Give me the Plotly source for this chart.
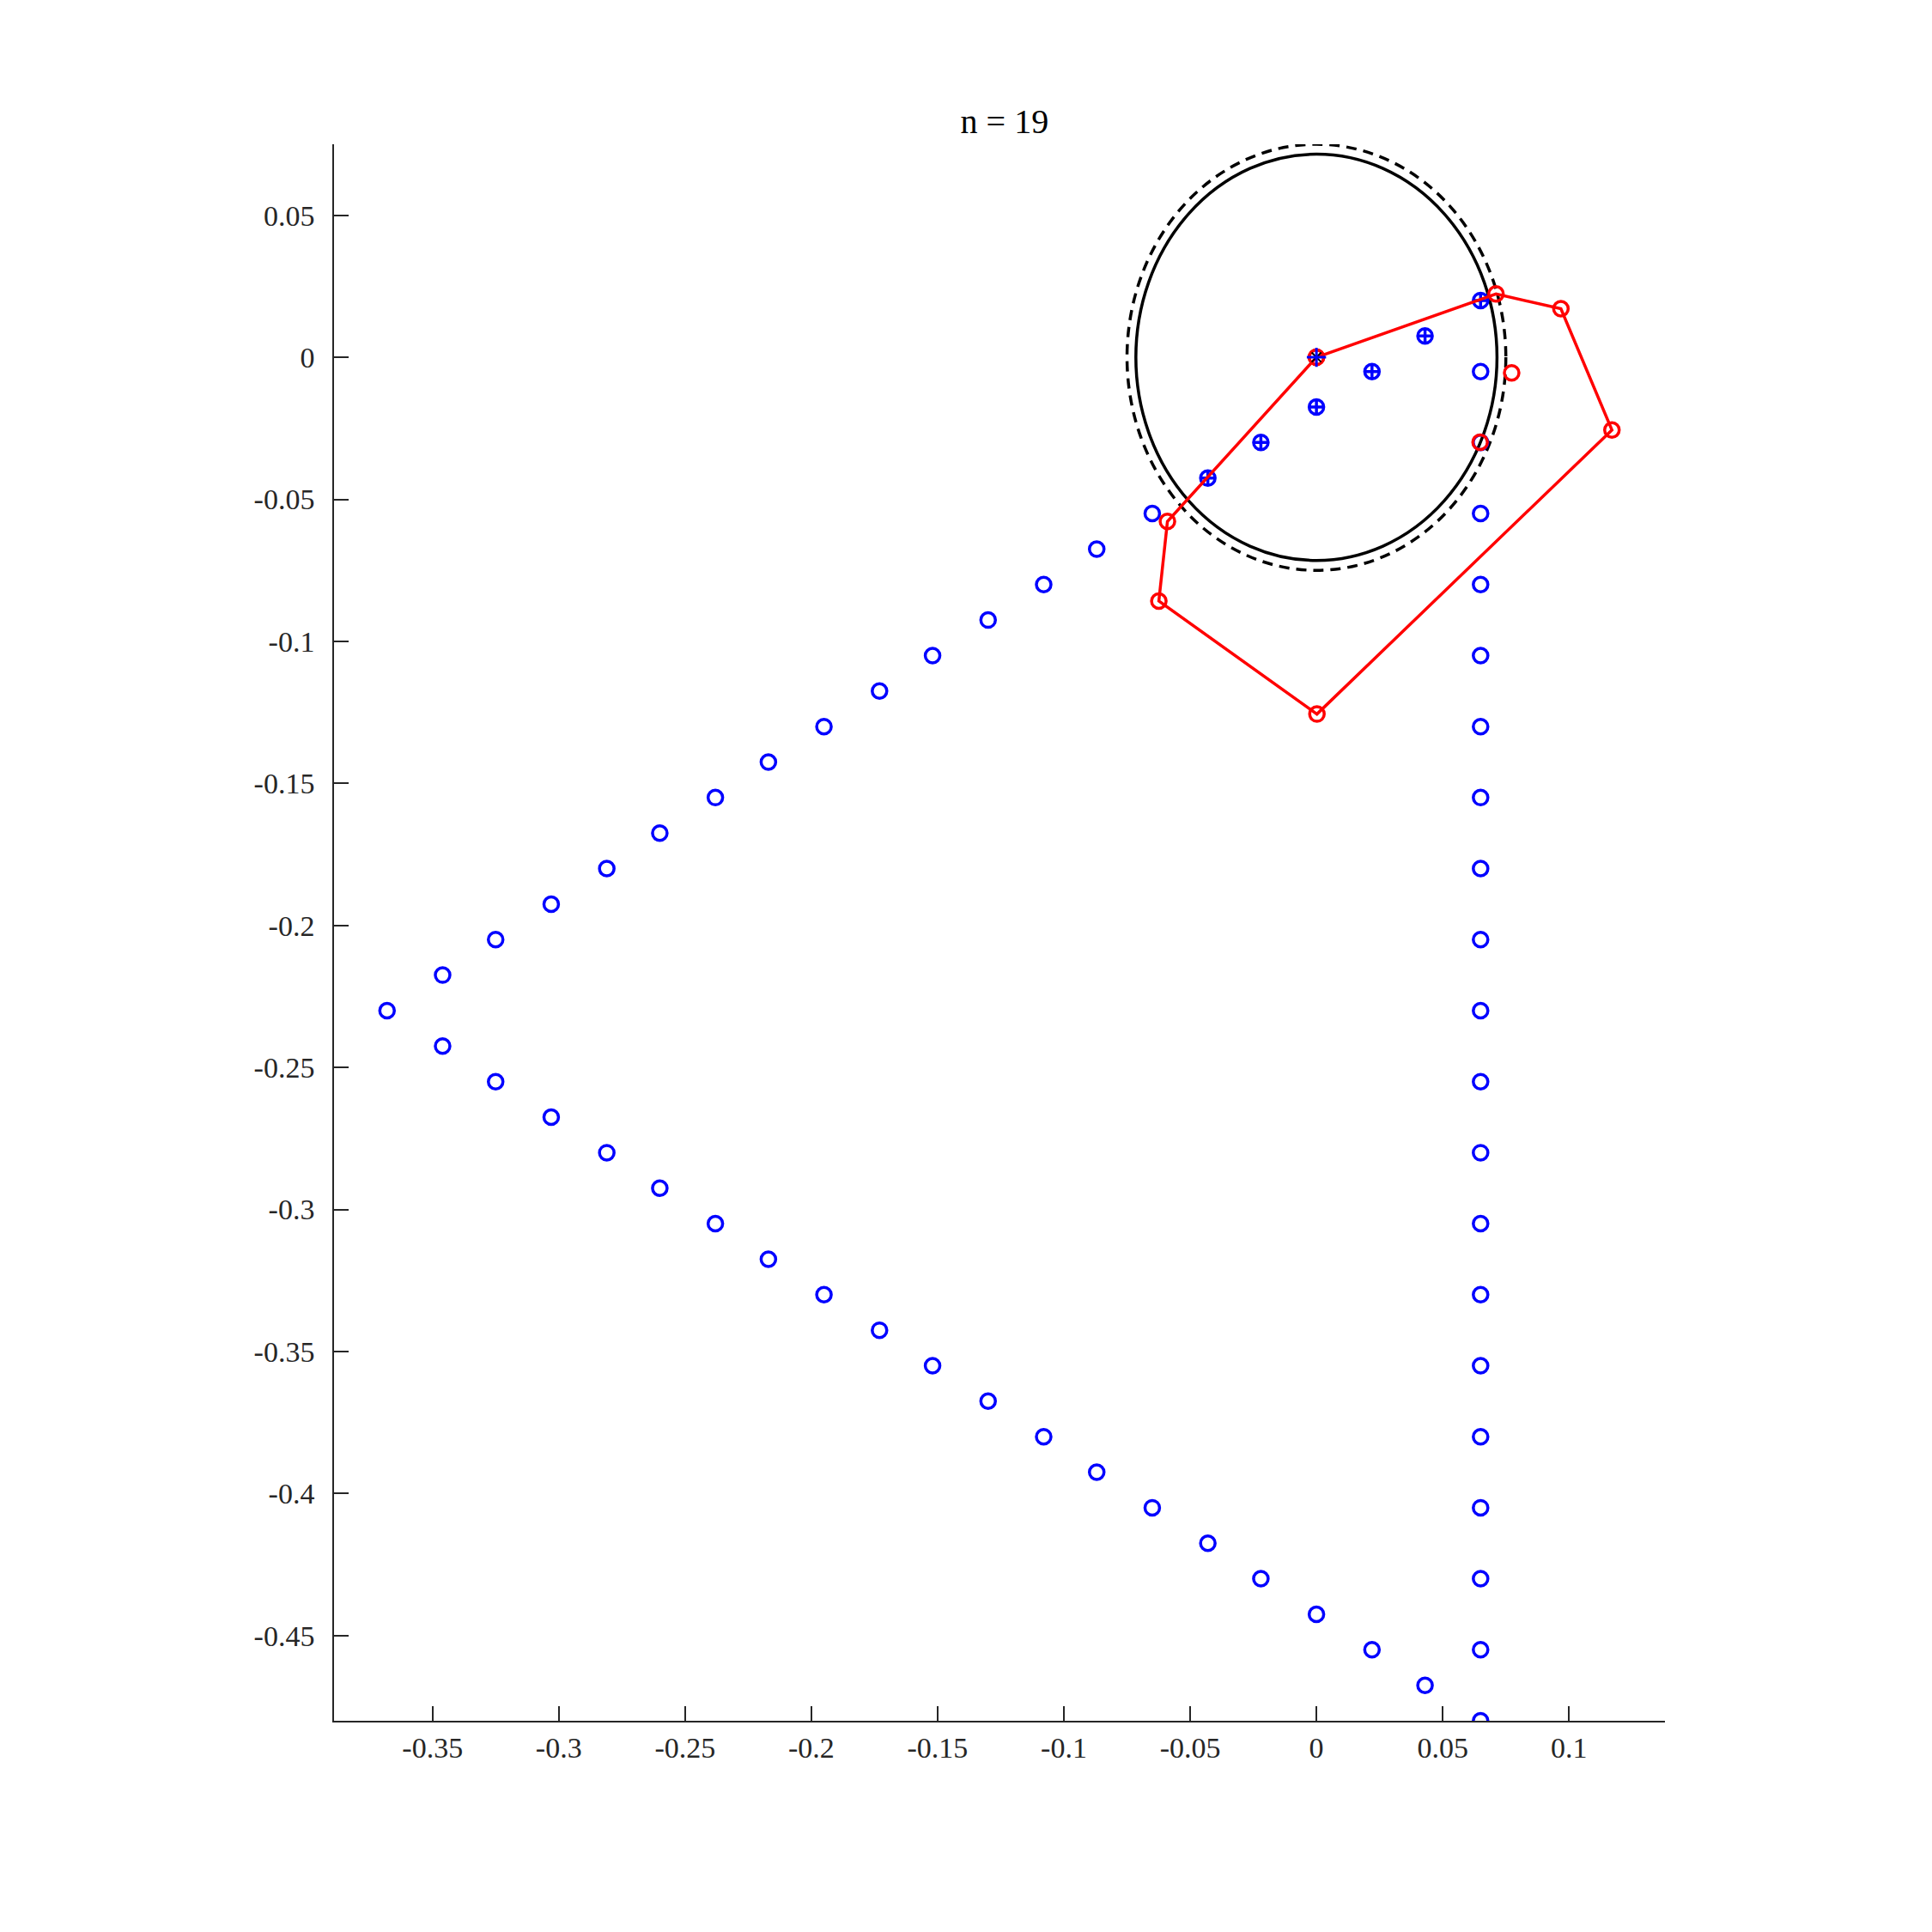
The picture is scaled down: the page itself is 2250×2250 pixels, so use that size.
import plotly.graph_objects as go

# ---- data ----
upper_x = [-0.368, -0.346, -0.325, -0.303, -0.281, -0.260, -0.238, -0.217,
           -0.195, -0.173, -0.152, -0.130, -0.108, -0.087, -0.065]
upper_y = [-0.23, -0.2175, -0.205, -0.1925, -0.18, -0.1675, -0.155, -0.1425,
           -0.13, -0.1175, -0.105, -0.0925, -0.08, -0.0675, -0.055]

plus_x = [-0.043, -0.022, 0.0, 0.022, 0.043, 0.065]
plus_y = [-0.0425, -0.03, -0.0175, -0.005, 0.0075, 0.02]

lower_x = [-0.346, -0.325, -0.303, -0.281, -0.260, -0.238, -0.217, -0.195,
           -0.173, -0.152, -0.130, -0.108, -0.087, -0.065, -0.043, -0.022,
           0.0, 0.022, 0.043]
lower_y = [-0.2425, -0.255, -0.2675, -0.28, -0.2925, -0.305, -0.3175, -0.33,
           -0.3425, -0.355, -0.3675, -0.38, -0.3925, -0.405, -0.4175, -0.43,
           -0.4425, -0.455, -0.4675]

vert_x = [0.065] * 20
vert_y = [-0.005, -0.03, -0.055, -0.08, -0.105, -0.13, -0.155, -0.18, -0.205,
          -0.23, -0.255, -0.28, -0.305, -0.33, -0.355, -0.38, -0.405, -0.43,
          -0.455, -0.48]

poly_x = [0.0, 0.0711, 0.0968, 0.117, 0.0002, -0.0624, -0.059, 0.0]
poly_y = [0.0, 0.0223, 0.0171, -0.0256, -0.1256, -0.0858, -0.0578, 0.0]

extra_red_x = [0.0773, 0.0648]
extra_red_y = [-0.0055, -0.0299]

center_x = [0.0]
center_y = [0.0]

r_solid = 0.0715
r_dashed = 0.075

xtick_vals = [-0.35, -0.3, -0.25, -0.2, -0.15, -0.1, -0.05, 0, 0.05, 0.1]
xtick_text = ["-0.35", "-0.3", "-0.25", "-0.2", "-0.15", "-0.1", "-0.05", "0", "0.05", "0.1"]
ytick_vals = [0.05, 0, -0.05, -0.1, -0.15, -0.2, -0.25, -0.3, -0.35, -0.4, -0.45]
ytick_text = ["0.05", "0", "-0.05", "-0.1", "-0.15", "-0.2", "-0.25", "-0.3", "-0.35", "-0.4", "-0.45"]

title_text = "n = 19"

# ---- styles ----
BLUE = "#0000ff"
RED = "#ff0000"
FONT = "Liberation Serif"
AX = "#262626"
MSIZE = 17
MLW = 3.5
LW = 3.5

fig = go.Figure()

blue_marker = dict(symbol="circle-open", size=MSIZE, color=BLUE, line=dict(width=MLW, color=BLUE))

fig.add_trace(go.Scatter(x=upper_x, y=upper_y, mode="markers", marker=blue_marker, showlegend=False))
fig.add_trace(go.Scatter(x=lower_x, y=lower_y, mode="markers", marker=blue_marker, showlegend=False))
fig.add_trace(go.Scatter(x=vert_x, y=vert_y, mode="markers", marker=blue_marker, showlegend=False))
fig.add_trace(go.Scatter(x=plus_x, y=plus_y, mode="markers",
                         marker=dict(symbol="circle-cross-open", size=MSIZE, color=BLUE,
                                     line=dict(width=MLW, color=BLUE)),
                         showlegend=False))

fig.add_trace(go.Scatter(x=poly_x, y=poly_y, mode="lines+markers",
                         line=dict(color=RED, width=LW),
                         marker=dict(symbol="circle-open", size=MSIZE, color=RED,
                                     line=dict(width=MLW, color=RED)),
                         showlegend=False))
fig.add_trace(go.Scatter(x=extra_red_x, y=extra_red_y, mode="markers",
                         marker=dict(symbol="circle-open", size=MSIZE, color=RED,
                                     line=dict(width=MLW, color=RED)),
                         showlegend=False))
fig.add_trace(go.Scatter(x=center_x, y=center_y, mode="markers",
                         marker=dict(symbol="asterisk-open", size=13, color="black",
                                     line=dict(width=2, color="black")),
                         showlegend=False))
fig.add_trace(go.Scatter(x=center_x, y=center_y, mode="markers",
                         marker=dict(symbol="cross-thin-open", size=16, color=BLUE,
                                     line=dict(width=3, color=BLUE)),
                         showlegend=False))

fig.add_shape(type="circle", xref="x", yref="y",
              x0=-r_solid, x1=r_solid, y0=-r_solid, y1=r_solid,
              line=dict(color="black", width=LW), layer="below")
fig.add_shape(type="circle", xref="x", yref="y",
              x0=-r_dashed, x1=r_dashed, y0=-r_dashed, y1=r_dashed,
              line=dict(color="black", width=LW, dash="12px,8px"), layer="below")

axis_common = dict(showgrid=False, zeroline=False, showline=True, linecolor=AX,
                   linewidth=1.5, ticks="inside", ticklen=17, tickwidth=1.5,
                   tickcolor=AX, tickfont=dict(family=FONT, size=34, color=AX),
                   mirror=False)

fig.update_xaxes(range=[-0.389, 0.138], tickmode="array", tickvals=xtick_vals,
                 ticktext=xtick_text, ticklabelstandoff=0, **axis_common)
fig.update_yaxes(range=[-0.48, 0.075], tickmode="array", tickvals=ytick_vals,
                 ticktext=ytick_text, ticklabelstandoff=14, **axis_common)

fig.update_layout(
    width=2250, height=2250,
    margin=dict(l=381, r=319, t=160, b=254, autoexpand=False),
    paper_bgcolor="white", plot_bgcolor="white",
    title=dict(text=title_text, x=0.5164, xanchor="center", y=1 - 133 / 2250,
               yref="container", yanchor="middle",
               font=dict(family=FONT, size=40, color="black")),
)

fig.write_html("out.html")
